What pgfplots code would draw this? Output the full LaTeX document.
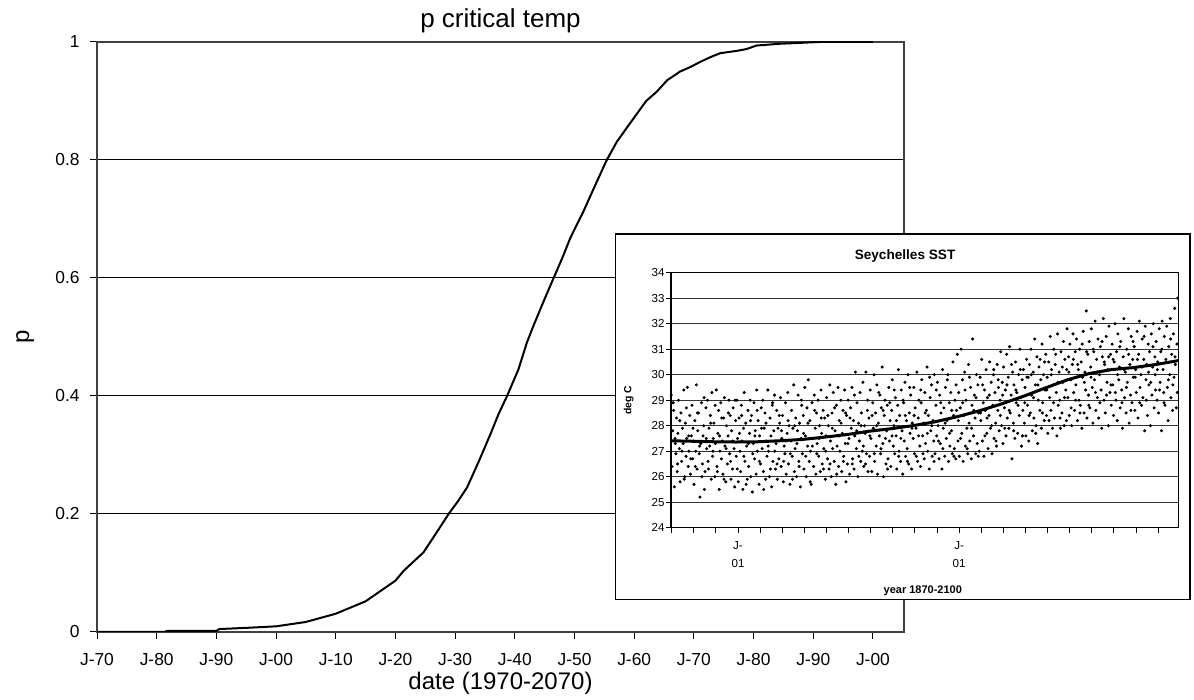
\documentclass[border=0pt]{standalone}
\usepackage{pgfplots}
\usepackage{pgfplotstable}
\pgfplotsset{compat=1.18}
\usepackage{fontspec}
\setmainfont{Liberation Sans}

% probability curve
\pgfplotstableread{
year p
1970 0
1981.5 0
1981.7 0.002
1990 0.002
1990.5 0.005
1995 0.007
2000 0.0096
2005 0.017
2010 0.031
2015 0.052
2020 0.087
2021.4 0.104
2024.7 0.135
2027.5 0.178
2028.9 0.2
2030.5 0.222
2032 0.245
2034 0.29
2035.9 0.335
2037.3 0.37
2038.7 0.40
2040.6 0.445
2042 0.49
2043 0.516
2044.8 0.56
2046.5 0.6
2048 0.635
2049.3 0.668
2051.5 0.713
2053.5 0.758
2055.4 0.8
2057.1 0.831
2059 0.858
2060.5 0.879
2062 0.9
2063.8 0.916
2065.5 0.935
2067.7 0.950
2069.5 0.958
2071 0.966
2072.7 0.974
2074.4 0.981
2075.8 0.983
2077.2 0.985
2078.8 0.988
2080.5 0.994
2084.4 0.997
2091 1.0
2100 1.0
}\pcrit

% inset: Seychelles SST, sampled points
\pgfplotstableread{
year sst
1870.1 28.0
1870.4 27.2
1870.8 29.2
1871.1 26.4
1871.5 27.8
1871.9 28.6
1872.2 25.6
1872.5 27.5
1872.9 26.9
1873.2 28.3
1873.5 26.2
1873.8 27.7
1874.1 29.0
1874.5 27.1
1874.8 25.8
1875.2 28.5
1875.5 26.6
1875.9 27.9
1876.2 27.3
1876.5 29.4
1876.9 26.0
1877.2 28.1
1877.5 26.8
1877.8 27.5
1878.1 29.5
1878.5 26.4
1878.8 27.0
1879.2 28.4
1879.5 26.1
1879.9 27.6
1880.2 28.8
1880.5 26.7
1880.8 27.4
1881.1 25.7
1881.5 28.2
1881.9 27.0
1882.2 29.6
1882.5 26.3
1882.8 27.8
1883.1 28.5
1883.5 26.9
1883.8 25.2
1884.2 27.3
1884.5 28.9
1884.9 26.5
1885.2 27.6
1885.5 28.0
1885.8 25.5
1886.1 26.2
1886.5 28.7
1886.8 27.1
1887.2 29.0
1887.5 26.6
1887.9 27.9
1888.2 27.2
1888.5 28.4
1888.9 25.9
1889.2 29.3
1889.5 26.8
1889.8 27.5
1890.1 28.1
1890.5 26.0
1890.8 27.3
1891.2 29.4
1891.5 26.4
1891.9 27.7
1892.2 28.6
1892.5 25.5
1892.8 27.0
1893.2 28.9
1893.5 26.7
1893.9 27.4
1894.2 26.1
1894.5 28.3
1894.8 29.1
1895.1 27.2
1895.5 25.8
1895.8 28.0
1896.2 26.5
1896.5 27.6
1896.9 29.0
1897.2 26.9
1897.5 28.4
1897.8 25.9
1898.1 27.8
1898.5 26.3
1898.8 28.7
1899.2 27.1
1899.5 25.6
1899.9 28.2
1900.2 26.8
1900.5 29.0
1900.8 27.5
1901.1 25.8
1901.5 28.3
1901.9 27.0
1902.2 26.2
1902.5 28.8
1902.8 27.4
1903.2 25.5
1903.5 27.9
1903.8 29.3
1904.1 26.6
1904.5 28.1
1904.9 27.2
1905.2 25.9
1905.5 28.6
1905.8 26.4
1906.2 27.7
1906.5 29.0
1906.8 26.0
1907.1 28.4
1907.5 25.4
1907.9 27.3
1908.2 28.9
1908.5 26.7
1908.8 27.8
1909.2 26.1
1909.5 29.4
1909.8 27.0
1910.1 28.2
1910.5 25.7
1910.8 27.6
1911.2 26.5
1911.5 28.7
1911.9 27.1
1912.2 29.0
1912.5 26.2
1912.8 27.9
1913.2 28.5
1913.5 25.9
1913.8 27.4
1914.1 26.8
1914.5 29.4
1914.8 27.0
1915.2 26.0
1915.5 28.3
1915.9 27.6
1916.2 25.6
1916.5 28.8
1916.8 26.6
1917.2 27.8
1917.5 29.2
1917.9 26.3
1918.2 27.3
1918.5 28.6
1918.8 25.9
1919.1 27.9
1919.5 26.7
1919.8 28.1
1920.2 29.1
1920.5 26.4
1920.8 27.5
1921.1 28.4
1921.5 25.8
1921.9 27.2
1922.2 26.9
1922.5 28.9
1922.8 26.1
1923.2 27.7
1923.5 29.3
1923.8 26.5
1924.1 28.0
1924.5 25.7
1924.9 27.4
1925.2 28.6
1925.5 26.8
1925.8 27.9
1926.2 29.6
1926.5 26.2
1926.8 27.1
1927.1 28.3
1927.5 26.0
1927.9 27.8
1928.2 29.2
1928.5 26.6
1928.8 28.1
1929.2 25.6
1929.5 27.5
1929.8 28.8
1930.1 26.9
1930.5 28.4
1930.8 26.3
1931.2 29.5
1931.5 27.6
1931.9 26.0
1932.2 28.7
1932.5 27.2
1932.8 29.8
1933.2 26.6
1933.5 28.2
1933.8 27.0
1934.1 25.7
1934.5 28.9
1934.8 27.5
1935.2 26.4
1935.5 29.2
1935.9 27.9
1936.2 26.1
1936.5 28.5
1936.8 27.3
1937.2 29.0
1937.5 26.8
1937.9 28.0
1938.2 26.2
1938.5 29.4
1938.8 27.7
1939.1 26.5
1939.5 28.6
1939.8 27.1
1940.2 28.3
1940.5 25.9
1940.8 27.6
1941.1 29.1
1941.5 26.7
1941.9 28.0
1942.2 26.3
1942.5 29.6
1942.8 27.4
1943.2 26.0
1943.5 28.5
1943.8 27.1
1944.1 29.3
1944.5 26.6
1944.9 27.8
1945.2 25.7
1945.5 28.8
1945.8 27.2
1946.2 29.5
1946.5 26.4
1946.8 28.2
1947.1 27.0
1947.5 29.0
1947.9 26.2
1948.2 27.7
1948.5 28.6
1948.8 26.8
1949.2 29.4
1949.5 27.3
1949.8 25.8
1950.1 28.4
1950.5 26.5
1950.8 29.0
1951.2 27.5
1951.5 26.1
1951.9 28.7
1952.2 27.9
1952.5 29.5
1952.8 26.7
1953.2 28.2
1953.5 26.3
1953.8 27.6
1954.1 30.1
1954.5 27.1
1954.8 28.9
1955.2 26.0
1955.5 28.1
1955.9 27.4
1956.2 29.3
1956.5 26.6
1956.8 28.5
1957.2 27.0
1957.5 29.7
1957.9 26.4
1958.2 28.0
1958.5 27.7
1958.8 30.1
1959.1 26.9
1959.5 28.6
1959.8 26.2
1960.2 28.3
1960.5 26.8
1960.8 29.4
1961.1 27.5
1961.5 26.2
1961.9 28.9
1962.2 27.9
1962.5 30.0
1962.8 26.6
1963.2 28.5
1963.5 27.2
1963.8 29.6
1964.1 26.1
1964.5 28.1
1964.9 27.6
1965.2 29.2
1965.5 26.9
1965.8 28.7
1966.2 30.3
1966.5 27.3
1966.8 26.0
1967.1 28.4
1967.5 29.0
1967.9 26.5
1968.2 27.8
1968.5 28.8
1968.8 26.7
1969.2 29.5
1969.5 27.4
1969.8 28.2
1970.1 26.4
1970.5 28.6
1970.8 29.8
1971.2 27.2
1971.5 28.0
1971.9 26.9
1972.2 29.1
1972.5 27.6
1972.8 26.3
1973.2 28.8
1973.5 30.2
1973.8 27.0
1974.1 28.4
1974.5 26.6
1974.8 29.4
1975.2 27.8
1975.5 26.1
1975.9 28.9
1976.2 27.4
1976.5 29.7
1976.8 26.8
1977.2 28.2
1977.5 27.1
1977.9 30.0
1978.2 26.5
1978.5 28.5
1978.8 27.7
1979.1 29.2
1979.5 26.3
1979.8 28.1
1980.2 27.5
1980.5 29.5
1980.8 26.9
1981.1 28.7
1981.5 27.9
1981.9 30.1
1982.2 26.6
1982.5 28.3
1982.8 29.0
1983.2 27.2
1983.5 26.4
1983.8 28.9
1984.1 29.8
1984.5 27.6
1984.9 28.1
1985.2 26.7
1985.5 29.3
1985.8 27.3
1986.2 28.6
1986.5 30.3
1986.8 27.0
1987.1 28.4
1987.5 26.3
1987.9 29.1
1988.2 27.8
1988.5 29.6
1988.8 26.8
1989.2 28.2
1989.5 27.4
1989.8 30.0
1990.1 26.9
1990.5 28.8
1990.8 27.6
1991.2 29.7
1991.5 28.0
1991.9 26.7
1992.2 29.2
1992.5 27.3
1992.8 28.5
1993.2 26.3
1993.5 30.2
1993.8 27.9
1994.1 28.7
1994.5 26.8
1994.8 29.5
1995.2 27.5
1995.5 28.2
1995.9 30.0
1996.2 26.6
1996.5 28.9
1996.8 27.2
1997.2 29.3
1997.5 27.8
1997.9 26.9
1998.2 30.5
1998.5 28.4
1998.8 27.1
1999.1 29.0
1999.5 26.7
1999.8 28.6
2000.2 30.8
2000.5 27.4
2000.8 29.3
2001.1 26.8
2001.5 28.7
2001.9 31.0
2002.2 27.7
2002.5 29.8
2002.8 26.6
2003.2 28.4
2003.5 30.1
2003.8 27.2
2004.1 29.0
2004.5 27.9
2004.9 26.9
2005.2 30.4
2005.5 28.1
2005.8 27.4
2006.2 29.5
2006.5 26.7
2006.8 28.8
2007.1 31.4
2007.5 27.6
2007.9 29.2
2008.2 28.3
2008.5 26.9
2008.8 30.0
2009.2 27.3
2009.5 29.6
2009.8 28.5
2010.1 27.0
2010.5 29.9
2010.8 28.2
2011.2 30.6
2011.5 27.4
2011.9 28.9
2012.2 26.8
2012.5 29.4
2012.8 28.6
2013.2 30.2
2013.5 27.7
2013.8 29.1
2014.1 27.1
2014.5 28.4
2014.8 30.5
2015.2 27.9
2015.5 29.7
2015.9 26.9
2016.2 28.8
2016.5 30.0
2016.8 27.5
2017.2 29.3
2017.5 28.1
2017.9 27.2
2018.2 30.4
2018.5 28.6
2018.8 29.5
2019.1 27.8
2019.5 29.0
2019.8 30.9
2020.2 28.0
2020.5 29.7
2020.8 27.3
2021.1 30.3
2021.5 28.7
2021.9 29.4
2022.2 27.6
2022.5 30.8
2022.8 28.3
2023.2 29.9
2023.5 27.9
2023.8 31.1
2024.1 28.5
2024.5 29.2
2024.9 26.7
2025.2 30.1
2025.5 28.1
2025.8 29.6
2026.2 27.5
2026.5 30.5
2026.8 28.9
2027.1 29.3
2027.5 27.7
2027.9 30.0
2028.2 28.4
2028.5 31.0
2028.8 29.1
2029.2 27.2
2029.5 29.8
2029.8 28.6
2030.1 30.2
2030.5 28.1
2030.8 29.5
2031.2 27.6
2031.5 30.6
2031.9 28.8
2032.2 29.9
2032.5 27.4
2032.8 30.4
2033.2 28.5
2033.5 31.0
2033.8 29.2
2034.1 27.8
2034.5 30.1
2034.8 28.3
2035.2 31.4
2035.5 29.6
2035.8 28.0
2036.2 30.7
2036.5 27.3
2036.8 29.0
2037.1 30.3
2037.5 28.6
2037.9 29.8
2038.2 27.9
2038.5 31.2
2038.8 28.9
2039.2 30.0
2039.5 28.2
2039.8 29.4
2040.2 30.8
2040.5 28.4
2040.8 29.9
2041.1 27.7
2041.5 30.5
2041.9 29.1
2042.2 31.5
2042.5 28.6
2042.8 30.2
2043.2 27.9
2043.5 29.6
2043.8 31.0
2044.1 28.3
2044.5 30.4
2044.9 29.3
2045.2 27.6
2045.5 31.6
2045.8 28.8
2046.2 30.1
2046.5 29.0
2046.8 27.9
2047.1 30.9
2047.5 28.5
2047.9 29.7
2048.2 31.3
2048.5 28.0
2048.8 30.6
2049.2 29.4
2049.5 28.2
2049.8 31.8
2050.2 29.1
2050.5 30.7
2050.8 28.4
2051.1 31.2
2051.5 29.8
2051.9 28.0
2052.2 30.4
2052.5 31.6
2052.8 29.3
2053.2 28.6
2053.5 30.9
2053.8 29.6
2054.1 31.4
2054.5 28.2
2054.9 30.2
2055.2 29.0
2055.5 31.0
2055.8 28.8
2056.2 30.5
2056.5 27.9
2056.8 29.9
2057.1 31.7
2057.5 28.5
2057.9 30.1
2058.2 29.4
2058.5 32.5
2058.8 28.3
2059.2 30.8
2059.5 29.2
2059.8 31.3
2060.1 28.7
2060.5 30.3
2060.8 31.8
2061.2 29.5
2061.5 28.1
2061.9 30.9
2062.2 29.8
2062.5 32.1
2062.8 28.6
2063.2 30.6
2063.5 29.1
2063.8 31.4
2064.1 28.3
2064.5 30.0
2064.9 31.1
2065.2 29.4
2065.5 27.9
2065.8 30.7
2066.2 32.2
2066.5 29.0
2066.8 30.4
2067.1 28.5
2067.5 31.5
2067.9 29.7
2068.2 30.2
2068.5 28.0
2068.8 31.9
2069.2 29.3
2069.5 30.8
2069.8 28.8
2070.2 31.2
2070.5 29.6
2070.8 28.4
2071.1 30.5
2071.5 32.0
2071.9 29.0
2072.2 30.9
2072.5 28.2
2072.8 31.6
2073.2 29.8
2073.5 30.3
2073.8 28.7
2074.1 31.3
2074.5 29.4
2074.9 27.9
2075.2 30.7
2075.5 32.2
2075.8 29.1
2076.2 30.1
2076.5 28.5
2076.8 31.0
2077.1 29.7
2077.5 31.8
2077.9 28.1
2078.2 30.4
2078.5 29.2
2078.8 31.5
2079.2 28.9
2079.5 30.6
2079.8 29.9
2080.2 31.1
2080.5 28.6
2080.8 30.2
2081.1 29.3
2081.5 31.7
2081.9 28.3
2082.2 30.8
2082.5 32.1
2082.8 29.5
2083.2 30.0
2083.5 28.8
2083.8 31.4
2084.1 29.1
2084.5 30.6
2084.9 27.8
2085.2 31.9
2085.5 29.8
2085.8 30.4
2086.2 28.4
2086.5 31.2
2086.8 29.6
2087.1 30.9
2087.5 28.0
2087.9 31.6
2088.2 29.2
2088.5 30.3
2088.8 32.0
2089.2 28.7
2089.5 30.7
2089.8 29.4
2090.1 31.3
2090.5 29.0
2090.8 30.5
2091.2 28.5
2091.5 31.8
2091.9 29.7
2092.2 30.9
2092.5 27.8
2092.8 32.1
2093.2 30.2
2093.5 29.3
2093.8 31.5
2094.1 28.8
2094.5 30.6
2094.9 31.9
2095.2 29.5
2095.5 28.2
2095.8 31.1
2096.2 30.0
2096.5 32.2
2096.8 29.1
2097.1 30.8
2097.5 28.6
2097.9 31.6
2098.2 29.9
2098.5 32.6
2098.8 30.4
2099.2 28.7
2099.5 31.2
2099.8 33.0
}\sst

% more points of the same cloud
\pgfplotstableread{
year sst
1870.65 26.9
1871.65 28.9
1872.65 27.3
1873.65 26.5
1874.65 28.2
1875.65 27.0
1876.65 25.9
1877.65 28.7
1878.65 27.6
1879.65 26.7
1880.65 27.9
1881.65 26.4
1882.65 28.5
1883.65 27.2
1884.65 26.0
1885.65 29.1
1886.65 27.5
1887.65 26.3
1888.65 28.1
1889.65 27.0
1890.65 28.8
1891.65 26.2
1892.65 27.6
1893.65 28.3
1894.65 25.9
1895.65 27.1
1896.65 28.5
1897.65 26.6
1898.65 27.4
1899.65 29.0
1900.65 26.3
1901.65 27.7
1902.65 28.4
1903.65 26.8
1904.65 25.7
1905.65 27.3
1906.65 28.2
1907.65 26.9
1908.65 27.6
1909.65 28.6
1910.65 26.6
1911.65 27.9
1912.65 25.5
1913.65 28.1
1914.65 27.2
1915.65 26.3
1916.65 28.9
1917.65 27.0
1918.65 26.5
1919.65 28.4
1920.65 27.8
1921.65 26.6
1922.65 27.4
1923.65 28.2
1924.65 26.9
1925.65 25.9
1926.65 28.0
1927.65 27.3
1928.65 26.4
1929.65 29.0
1930.65 27.7
1931.65 26.8
1932.65 28.1
1933.65 25.8
1934.65 27.2
1935.65 28.6
1936.65 26.9
1937.65 27.5
1938.65 28.3
1939.65 26.3
1940.65 27.0
1941.65 28.4
1942.65 26.5
1943.65 27.9
1944.65 28.7
1945.65 26.1
1946.65 27.6
1947.65 28.1
1948.65 26.6
1949.65 28.5
1950.65 27.3
1951.65 28.3
1952.65 26.5
1953.65 29.2
1954.65 27.8
1955.65 26.8
1956.65 28.0
1957.65 27.2
1958.65 26.5
1959.65 29.0
1960.65 27.6
1961.65 28.4
1962.65 26.9
1963.65 28.0
1964.65 29.3
1965.65 27.1
1966.65 28.6
1967.65 27.5
1968.65 26.3
1969.65 28.9
1970.65 27.6
1971.65 29.4
1972.65 28.2
1973.65 26.8
1974.65 27.5
1975.65 29.0
1976.65 28.4
1977.65 26.6
1978.65 29.5
1979.65 27.9
1980.65 28.4
1981.65 26.8
1982.65 27.6
1983.65 29.4
1984.65 26.9
1985.65 28.5
1986.65 27.7
1987.65 29.9
1988.65 28.0
1989.65 26.6
1990.65 29.4
1991.65 27.4
1992.65 28.9
1993.65 27.1
1994.65 28.1
1995.65 29.8
1996.65 27.7
1997.65 28.6
1998.65 26.8
1999.65 29.6
2000.65 28.2
2001.65 27.5
2002.65 28.9
2003.65 29.4
2004.65 27.1
2005.65 29.9
2006.65 27.9
2007.65 28.6
2008.65 29.1
2009.65 26.8
2010.65 28.5
2011.65 29.6
2012.65 27.6
2013.65 28.3
2014.65 29.2
2015.65 28.0
2016.65 30.2
2017.65 27.4
2018.65 29.8
2019.65 28.4
2020.65 29.2
2021.65 27.9
2022.65 29.6
2023.65 28.6
2024.65 30.4
2025.65 27.8
2026.65 29.4
2027.65 28.8
2028.65 30.2
2029.65 27.6
2030.65 28.9
2031.65 29.9
2032.65 28.4
2033.65 30.0
2034.65 29.1
2035.65 27.7
2036.65 29.6
2037.65 30.6
2038.65 28.5
2039.65 30.5
2040.65 29.4
2041.65 28.2
2042.65 30.0
2043.65 28.9
2044.65 30.8
2045.65 29.7
2046.65 28.3
2047.65 30.3
2048.65 29.1
2049.65 30.2
2050.65 30.1
2051.65 28.7
2052.65 30.6
2053.65 29.0
2054.65 30.4
2055.65 28.5
2056.65 31.2
2057.65 29.7
2058.65 30.9
2059.65 28.8
2060.65 29.9
2061.65 31.0
2062.65 29.3
2063.65 30.1
2064.65 28.9
2065.65 31.3
2066.65 30.5
2067.65 29.2
2068.65 30.7
2069.65 29.6
2070.65 30.6
2071.65 29.3
2072.65 30.0
2073.65 31.1
2074.65 28.9
2075.65 30.2
2076.65 29.5
2077.65 30.8
2078.65 28.6
2079.65 31.3
2080.65 29.9
2081.65 30.6
2082.65 28.9
2083.65 30.3
2084.65 31.5
2085.65 29.0
2086.65 30.1
2087.65 29.7
2088.65 31.1
2089.65 30.0
2090.65 30.2
2091.65 29.4
2092.65 31.0
2093.65 28.9
2094.65 30.5
2095.65 29.8
2096.65 31.4
2097.65 29.6
2098.65 30.7
2099.65 29.3
}\sstb

\pgfplotstableread{
year trend
1870 27.41
1880 27.39
1890 27.37
1900 27.36
1910 27.37
1920 27.41
1930 27.46
1940 27.55
1950 27.65
1960 27.78
1970 27.88
1980 28.00
1990 28.15
2000 28.35
2010 28.58
2020 28.85
2030 29.15
2040 29.48
2050 29.80
2060 30.05
2070 30.20
2080 30.28
2090 30.40
2100 30.55
}\ssttrend

\begin{document}
\begin{tikzpicture}
\begin{axis}[
    at={(48.5pt,34pt)}, anchor=south west,
    scale only axis, width=403.5pt, height=295pt,
    xmin=1970, xmax=2105.2, ymin=0, ymax=1,
    xtick={1970,1980,...,2100},
    xticklabels={J-70,J-80,J-90,J-00,J-10,J-20,J-30,J-40,J-50,J-60,J-70,J-80,J-90,J-00},
    ytick={0,0.2,0.4,0.6,0.8,1},
    yticklabels={0,0.2,0.4,0.6,0.8,1},
    tick align=outside, xtick pos=left, ytick pos=left,
    major tick length=3.3pt,
    major tick style={black, line width=0.5pt},
    ymajorgrids, grid style={black, line width=0.5pt},
    axis line style={black!75, line width=1pt},
    tick label style={font=\fontsize{8.7}{10}\selectfont},
    xticklabel style={anchor=base, inner sep=0pt, yshift=-13.7pt},
    yticklabel style={anchor=east, inner sep=0pt, xshift=-5.2pt},
    title={p critical temp},
    title style={font=\fontsize{13}{15}\selectfont, at={(axis description cs:0.5,1.0034)}, anchor=base},
    xlabel={date (1970-2070)},
    xlabel style={font=\fontsize{12}{14}\selectfont, at={(axis description cs:0.5,-0.0983)}, anchor=base},
    ylabel={p},
    ylabel style={font=\fontsize{12}{14}\selectfont, at={(axis description cs:-0.0842,0.5)}, anchor=base},
]
\addplot[black, line width=1pt] table[x=year, y=p] {\pcrit};
\end{axis}

% inset chart area
\draw[fill=white, line width=0.6pt] (307.75pt,50.25pt) rectangle (595pt,233pt);

\begin{axis}[
    at={(335.5pt,86.15pt)}, anchor=south west,
    scale only axis, width=253.85pt, height=127.5pt,
    xmin=1870.7, xmax=2100.3, ymin=24, ymax=34,
    xtick={1871,1881,...,2091},
    xticklabels={,,,{J-\\01},,,,,,,,,,{J-\\01},,,,,,,,,},
    ytick={24,25,...,34},
    yticklabels={24,25,26,27,28,29,30,31,32,33,34},
    tick align=outside, xtick pos=left, ytick pos=left,
    major tick length=2.5pt,
    major tick style={black, line width=0.5pt},
    ymajorgrids, grid style={black!80, line width=0.6pt},
    axis line style={black, line width=0.6pt},
    tick label style={font=\fontsize{5.8}{9.2}\selectfont},
    xticklabel style={align=center, anchor=north, inner sep=0pt, yshift=-4.2pt},
    yticklabel style={anchor=east, inner sep=0pt, xshift=-0.5pt},
    title={Seychelles SST},
    title style={font=\bfseries\fontsize{6.8}{8}\selectfont, at={(axis description cs:0.461,1.0055)}, anchor=base},
    xlabel={year 1870-2100},
    xlabel style={font=\bfseries\fontsize{5.5}{7}\selectfont, at={(axis description cs:0.496,-0.26)}, anchor=base},
    ylabel={deg C},
    ylabel style={font=\bfseries\fontsize{5.2}{7}\selectfont, at={(axis description cs:-0.0835,0.5)}, anchor=center},
]
\addplot[only marks, mark=*, mark size=0.55pt, black, mark options={draw=none, fill=black}] table[x=year, y=sst] {\sst};
\addplot[only marks, mark=*, mark size=0.55pt, black, mark options={draw=none, fill=black}] table[x=year, y=sst] {\sstb};
\addplot[black, line width=1.5pt] table[x=year, y=trend] {\ssttrend};
\end{axis}

\pgfresetboundingbox
\path[use as bounding box] (0,0) rectangle (597pt,350pt);
\end{tikzpicture}
\end{document}
